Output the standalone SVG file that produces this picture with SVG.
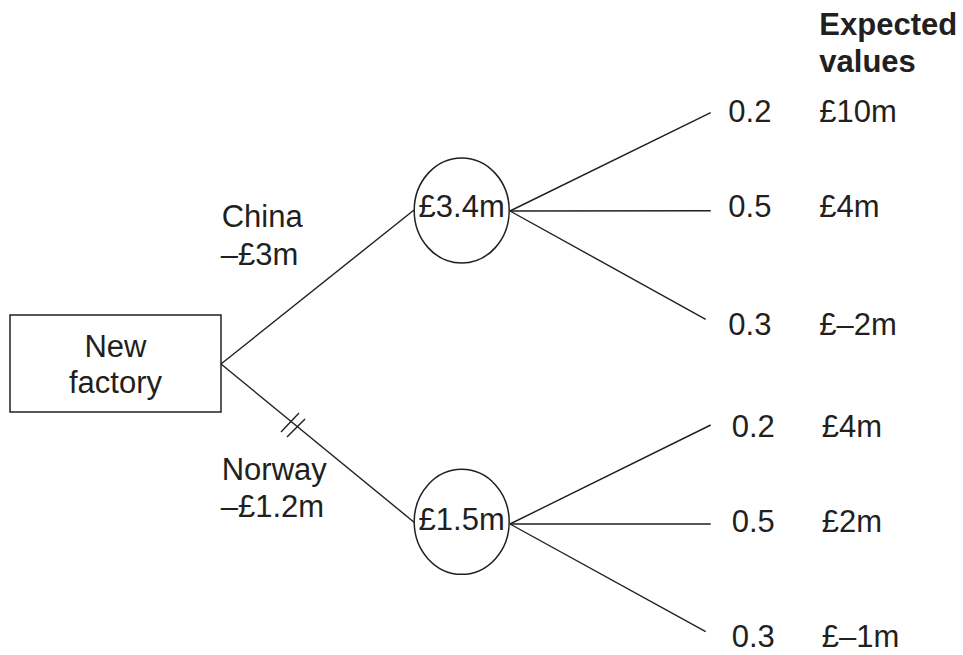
<svg xmlns="http://www.w3.org/2000/svg" width="963" height="655" viewBox="0 0 963 655">
<style>
.t{font-family:"Liberation Sans",Arial,sans-serif;font-size:31px;fill:#231f20}
.b{font-weight:bold}
.m{text-anchor:middle}
.ln{stroke:#231f20;stroke-width:1.4;fill:none}
.sh{stroke:#231f20;stroke-width:1.5;fill:#fff}
</style>
<rect width="963" height="655" fill="#fff"/>
<g id="connectors">
<line class="ln" x1="221" y1="364" x2="414" y2="210"/>
<line class="ln" x1="221" y1="364" x2="415" y2="523"/>
<line class="ln" x1="281" y1="432" x2="299" y2="413"/>
<line class="ln" x1="287" y1="437" x2="305" y2="419"/>
<line class="ln" x1="510" y1="211" x2="710.7" y2="112.7"/>
<line class="ln" x1="510" y1="211" x2="710.7" y2="210.7"/>
<line class="ln" x1="510" y1="211" x2="705.7" y2="319.3"/>
<line class="ln" x1="510" y1="524" x2="710.7" y2="425"/>
<line class="ln" x1="510" y1="524" x2="710.7" y2="524"/>
<line class="ln" x1="510" y1="524" x2="705.7" y2="631.7"/>
</g>
<g id="new-factory">
<rect class="sh" x="10" y="315" width="211" height="97"/>
<text class="t m" x="115.5" y="356.7">New</text>
<text class="t m" x="115.5" y="392.5">factory</text>
</g>
<g id="china-node">
<ellipse class="sh" cx="461.7" cy="210.5" rx="47.5" ry="52.5"/>
<text class="t m" x="461.7" y="216.7">£3.4m</text>
</g>
<g id="norway-node">
<ellipse class="sh" cx="461.7" cy="521.8" rx="47.5" ry="52.5"/>
<text class="t m" x="461.7" y="530">£1.5m</text>
</g>
<g id="branch-labels">
<text class="t" x="221.7" y="226.7">China</text>
<text class="t" x="220.7" y="265">–£3m</text>
<text class="t" x="221.7" y="480">Norway</text>
<text class="t" x="220.7" y="516.7">–£1.2m</text>
</g>
<g id="outcomes">
<text class="t b" x="819.3" y="35">Expected</text>
<text class="t b" x="819.3" y="72">values</text>
<text class="t" x="728.3" y="121.5">0.2</text>
<text class="t" x="819.3" y="121.5">£10m</text>
<text class="t" x="728.3" y="217">0.5</text>
<text class="t" x="819.3" y="217">£4m</text>
<text class="t" x="728.3" y="335">0.3</text>
<text class="t" x="819.3" y="335">£–2m</text>
<text class="t" x="731.7" y="436.7">0.2</text>
<text class="t" x="821.7" y="436.7">£4m</text>
<text class="t" x="731.7" y="532.3">0.5</text>
<text class="t" x="821.7" y="532.3">£2m</text>
<text class="t" x="731.7" y="647">0.3</text>
<text class="t" x="821.7" y="647">£–1m</text>
</g>
</svg>
